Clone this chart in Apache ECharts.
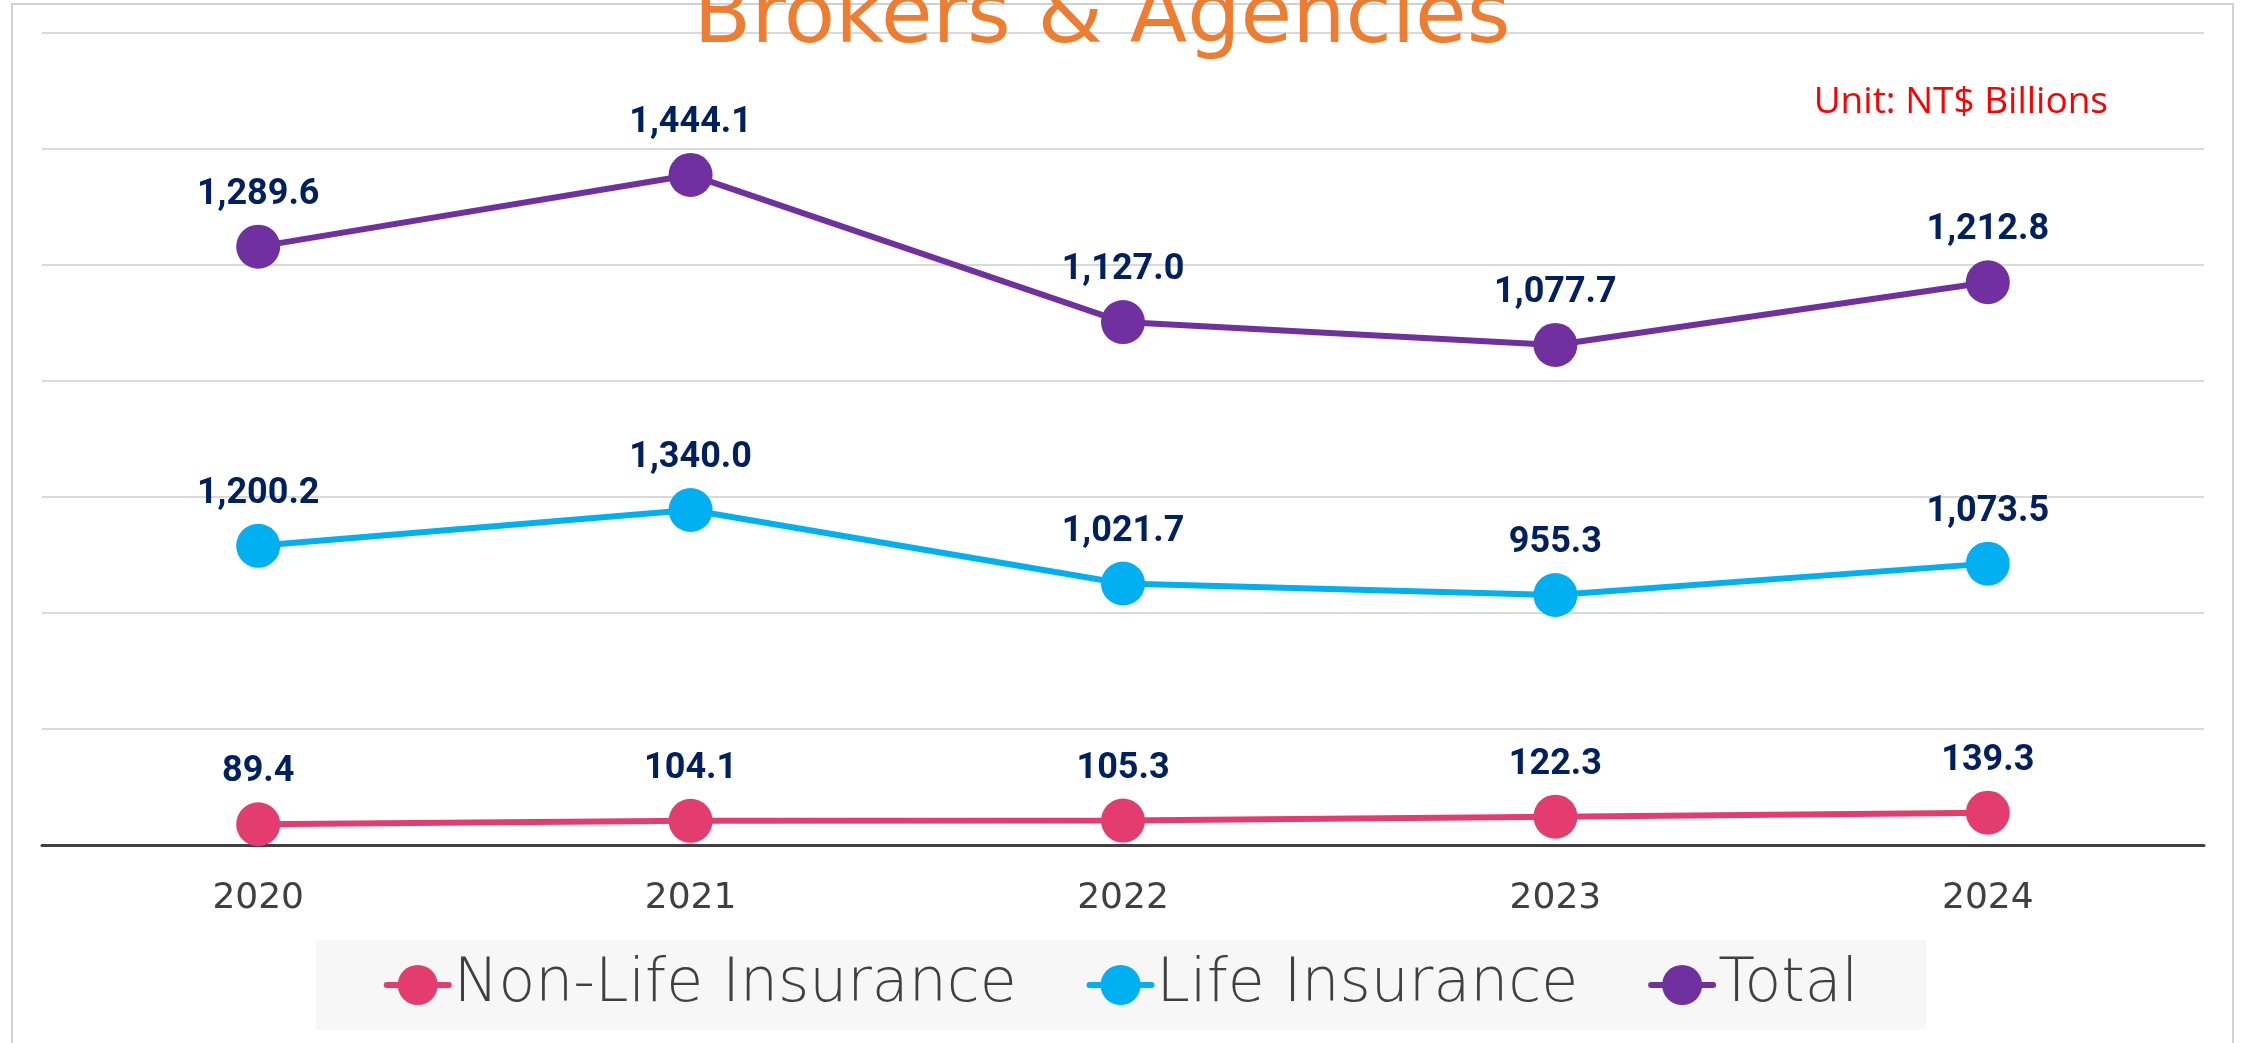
<!DOCTYPE html>
<html>
<head>
<meta charset="utf-8">
<script src="https://cdn.jsdelivr.net/npm/echarts@6.0.0/dist/echarts.min.js"></script>
<style>
  html, body { margin: 0; padding: 0; background: #fff; }
  #chart { width: 2242px; height: 1043px; }
</style>
</head>
<body>
<div id="chart"></div>
<script>
// data
const years = ['2020', '2021', '2022', '2023', '2024'];
const nonLife = [89.4, 104.1, 105.3, 122.3, 139.3];
const life = [1200.2, 1340.0, 1021.7, 955.3, 1073.5];
const total = [1289.6, 1444.1, 1127.0, 1077.7, 1212.8];
const seriesNames = ['Non-Life Insurance', 'Life Insurance', 'Total'];

const fmt = v => Number(v).toLocaleString('en-US', { minimumFractionDigits: 1, maximumFractionDigits: 1 });

const myChart = echarts.init(document.getElementById('chart'));

const dataLabel = {
    show: true,
    position: 'top',
    distance: 12,
    color: '#002060',
    fontFamily: 'Roboto',
    fontWeight: 700,
    fontSize: 36,
    formatter: p => fmt(p.value)
};

function lineSeries(name, data, color, yIdx, stack) {
    return {
        name: name,
        type: 'line',
        data: data,
        yAxisIndex: yIdx,
        stack: stack,
        symbol: 'circle',
        symbolSize: 44,
        lineStyle: { color: color, width: 6 },
        itemStyle: { color: color },
        label: dataLabel,
        emphasis: { disabled: true }
    };
}

const option = {
    backgroundColor: '#fff',
    animation: false,
    grid: { left: 42, right: 38, top: 33, bottom: 198 },
    xAxis: {
        type: 'category',
        data: years,
        axisTick: { show: false },
        axisLine: { lineStyle: { color: '#404040', width: 3 } },
        axisLabel: {
            color: '#404040',
            fontFamily: 'DejaVu Sans',
            fontSize: 36,
            margin: 36
        }
    },
    yAxis: [
        {
            type: 'value',
            min: 0,
            max: 1750,
            interval: 250,
            axisLabel: { show: false },
            axisLine: { show: false },
            axisTick: { show: false },
            splitLine: { lineStyle: { color: '#D9D9D9', width: 2 } }
        },
        {
            type: 'value',
            min: 0,
            max: 3500,
            interval: 500,
            axisLabel: { show: false },
            axisLine: { show: false },
            axisTick: { show: false },
            splitLine: { show: false }
        }
    ],
    legend: {
        data: seriesNames,
        left: 'center',
        top: 940,
        padding: [15, 68],
        itemGap: 70,
        itemWidth: 62,
        itemHeight: 50,
        backgroundColor: '#F7F7F7',
        lineStyle: { width: 6, cap: 'round' },
        textStyle: {
            color: '#404040',
            fontFamily: 'DejaVu Sans',
            fontWeight: 200,
            fontSize: 60
        }
    },
    graphic: [
        {
            type: 'rect',
            silent: true,
            z: -10,
            shape: { x: 12, y: 4, width: 2221, height: 1100 },
            style: { fill: 'none', stroke: '#D0D0D0', lineWidth: 2 }
        },
        {
            type: 'text',
            x: 1102,
            y: 62,
            z: 10,
            style: {
                text: 'Brokers & Agencies',
                fill: '#ED7D31',
                font: '400 84px "DejaVu Sans"',
                align: 'center',
                verticalAlign: 'bottom'
            }
        },
        {
            type: 'text',
            x: 2108,
            y: 102,
            z: 10,
            style: {
                text: 'Unit: NT$ Billions',
                fill: '#FF0000',
                font: '37px "Open Sans"',
                align: 'right',
                verticalAlign: 'middle'
            }
        }
    ],
    series: [
        lineSeries(seriesNames[0], nonLife, '#E33D6F', 1, 'ins'),
        lineSeries(seriesNames[1], life, '#00B0F0', 1, 'ins'),
        lineSeries(seriesNames[2], total, '#7030A0', 0)
    ]
};

myChart.setOption(option);
window.addEventListener('resize', () => {
    myChart.resize();
});
</script>
</body>
</html>
